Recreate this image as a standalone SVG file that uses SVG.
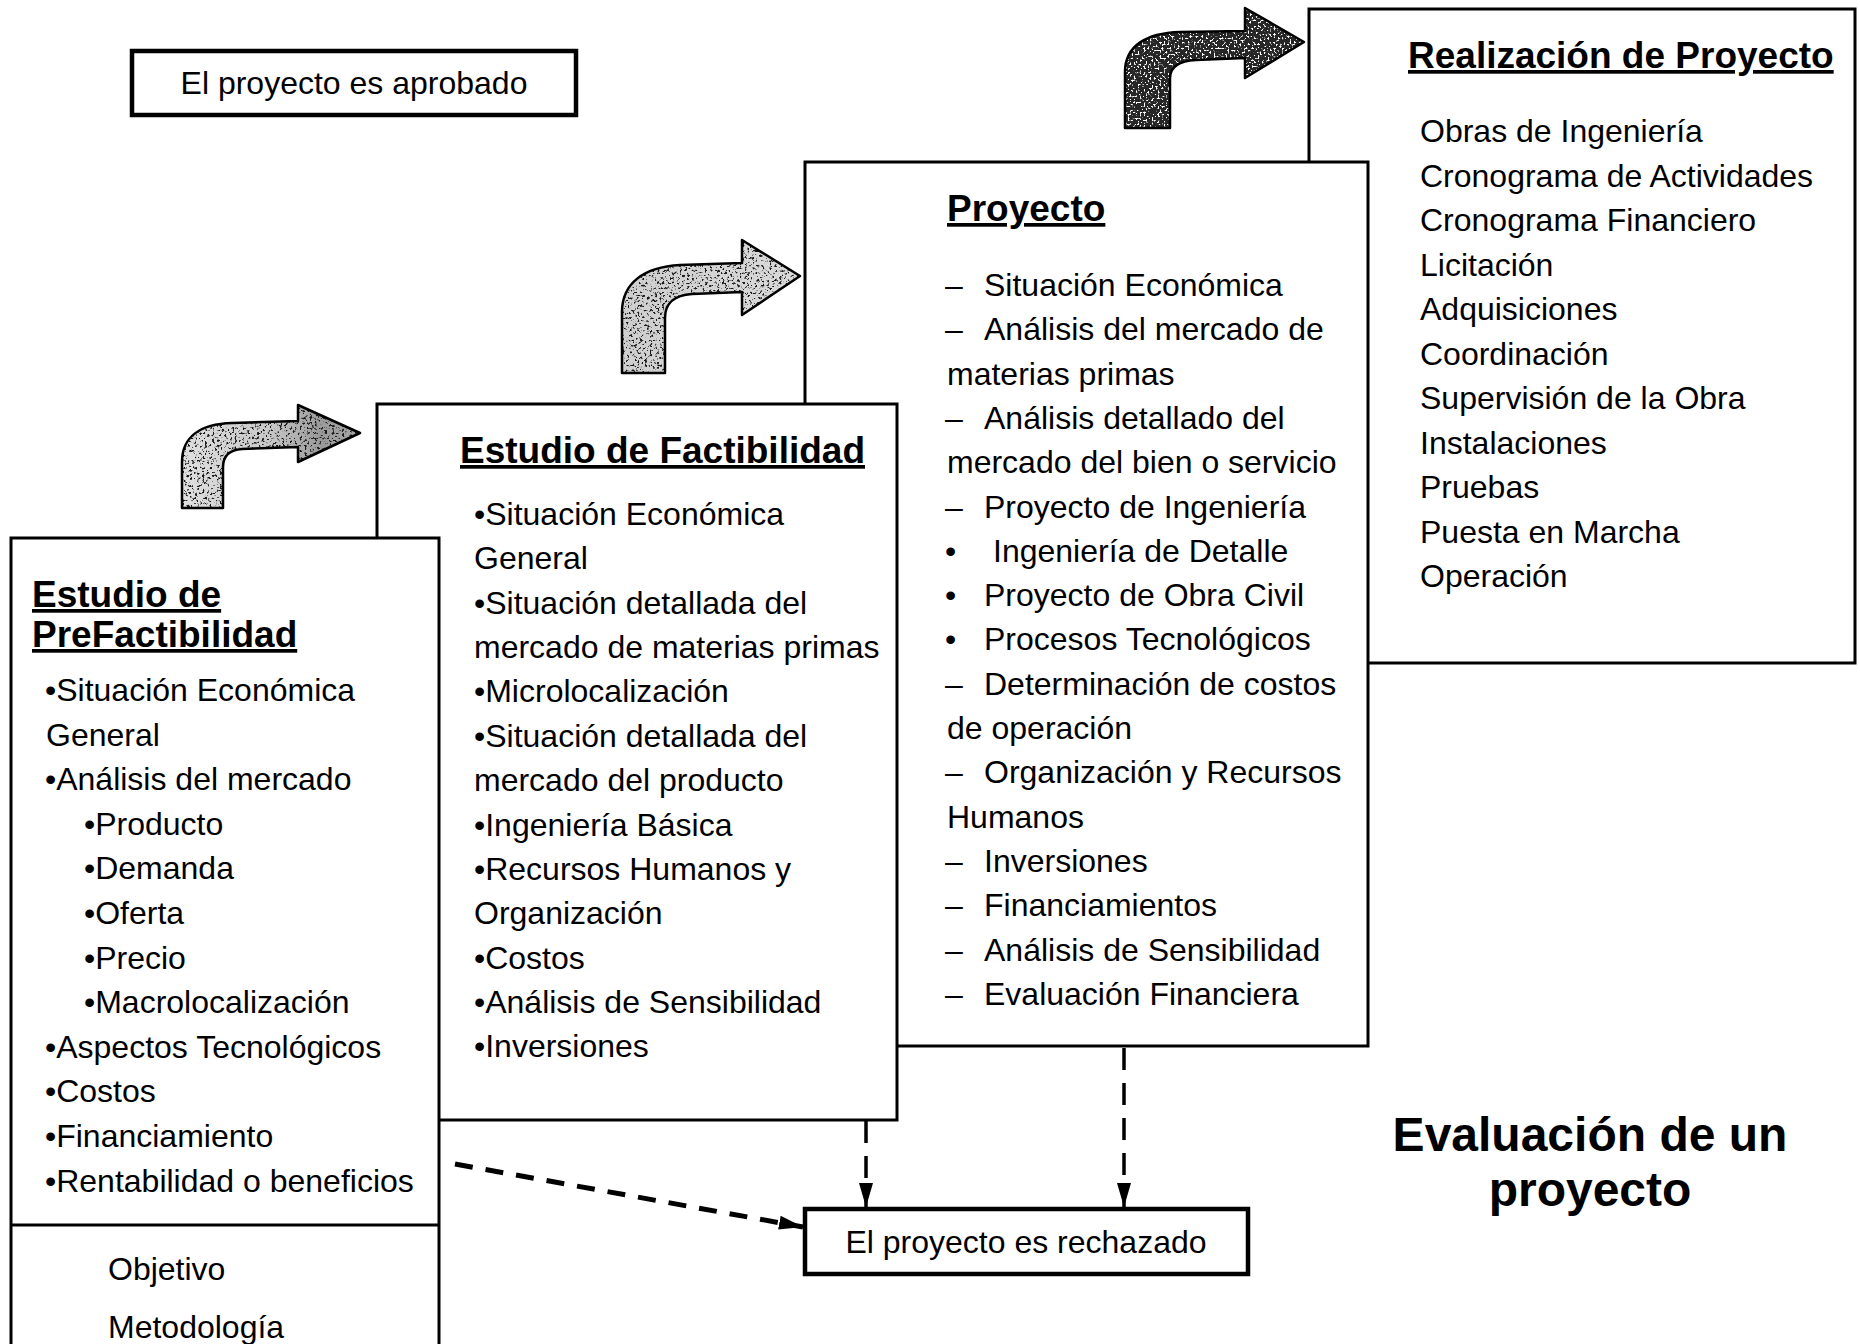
<svg xmlns="http://www.w3.org/2000/svg" width="1860" height="1344" viewBox="0 0 1860 1344">
  <style>
    text { font-family: "Liberation Sans", Arial, sans-serif; fill: #000; }
    .t { font-size: 32px; }
    .h { font-size: 37px; font-weight: bold; text-decoration: underline; }
    .big { font-size: 48px; font-weight: bold; text-anchor: middle; }
    .mid { text-anchor: middle; }
    .box { fill: #fff; stroke: #000; stroke-width: 3; }
    .thick { fill: #fff; stroke: #000; stroke-width: 4.5; }
    .rule { stroke: #000; stroke-width: 3; }
    .dashD { fill: none; stroke: #000; stroke-width: 5; stroke-dasharray: 18 13; }
    .dashV { fill: none; stroke: #000; stroke-width: 3.5; stroke-dasharray: 22 13; }
    .edge { fill: none; stroke: #000; stroke-width: 2.5; stroke-linejoin: round; }
  </style>
  <defs>
    <!-- granite-like speckle texture for the bent arrows -->
    <filter id="grainBlack" x="0" y="0" width="1" height="1" color-interpolation-filters="sRGB">
      <feTurbulence type="fractalNoise" baseFrequency="0.4" numOctaves="3" seed="7" result="noise"/>
      <feColorMatrix in="noise" type="matrix" values="0 0 0 0 0.1  0 0 0 0 0.1  0 0 0 0 0.1  0 0 0 8 -4.55" result="spots"/>
      <feComposite in="spots" in2="SourceAlpha" operator="in" result="spotsIn"/>
      <feMerge><feMergeNode in="SourceGraphic"/><feMergeNode in="spotsIn"/></feMerge>
    </filter>
    <filter id="grainWhite" x="0" y="0" width="1" height="1" color-interpolation-filters="sRGB">
      <feTurbulence type="fractalNoise" baseFrequency="0.5" numOctaves="3" seed="11" result="noise"/>
      <feColorMatrix in="noise" type="matrix" values="0 0 0 0 1  0 0 0 0 1  0 0 0 0 1  0 0 0 9 -5.0" result="spots"/>
      <feComposite in="spots" in2="SourceAlpha" operator="in" result="spotsIn"/>
      <feMerge><feMergeNode in="SourceGraphic"/><feMergeNode in="spotsIn"/></feMerge>
    </filter>
    <linearGradient id="fillA" x1="0" y1="0" x2="1" y2="0">
      <stop offset="0" stop-color="#e0e0e0"/>
      <stop offset="0.5" stop-color="#c8c8c8"/>
      <stop offset="0.78" stop-color="#9a9a9a"/>
      <stop offset="1" stop-color="#a8a8a8"/>
    </linearGradient>
    <linearGradient id="fillB" x1="0" y1="0" x2="1" y2="0">
      <stop offset="0" stop-color="#cfcfcf"/>
      <stop offset="1" stop-color="#dadada"/>
    </linearGradient>
    <marker id="head" markerUnits="userSpaceOnUse" markerWidth="24" markerHeight="18" viewBox="0 0 24 18" refX="24" refY="9" orient="auto">
      <path d="M0,2 L24,9 L0,16 Z" fill="#000"/>
    </marker>
    <path id="arrowA" d="M182,508 L182,462 C182,437 200,424 232,423 L298,421 L298,405 L360,433 L298,462 L298,447 L242,449 C229,450 223,456 223,467 L223,508 Z"/>
    <path id="arrowB" d="M622,373 L622,312 C622,283 644,267 680,265 L742,263 L742,240 L800,276 L742,315 L742,292 L692,294 C675,295 665,303 665,318 L665,373 Z"/>
    <path id="arrowC" d="M1125,128 L1125,72 C1125,46 1146,33 1180,32 L1245,31 L1245,8 L1304,42 L1245,78 L1245,58 L1196,60 C1179,61 1170,67 1170,78 L1170,128 Z"/>
  </defs>

  <rect width="1860" height="1344" fill="#fff"/>

  <!-- bent arrows between stages -->
  <g id="arrow-prefact-fact">
    <use href="#arrowA" fill="url(#fillA)" filter="url(#grainBlack)"/>
    <use href="#arrowA" class="edge"/>
  </g>
  <g id="arrow-fact-proy">
    <use href="#arrowB" fill="url(#fillB)" filter="url(#grainBlack)"/>
    <use href="#arrowB" class="edge"/>
  </g>
  <g id="arrow-proy-real">
    <use href="#arrowC" fill="#262626" filter="url(#grainWhite)"/>
    <use href="#arrowC" class="edge"/>
  </g>

  <g id="aprobado">
    <rect class="thick" x="132" y="51" width="444" height="64"/>
    <text class="t mid" x="354" y="94">El proyecto es aprobado</text>
  </g>

  <g id="realizacion">
    <rect class="box" x="1309" y="9" width="546" height="654"/>
    <text class="h" x="1408" y="68">Realización de Proyecto</text>
    <text class="t">
      <tspan x="1420" y="142">Obras de Ingeniería</tspan>
      <tspan x="1420" y="186.5">Cronograma de Actividades</tspan>
      <tspan x="1420" y="231">Cronograma Financiero</tspan>
      <tspan x="1420" y="275.5">Licitación</tspan>
      <tspan x="1420" y="320">Adquisiciones</tspan>
      <tspan x="1420" y="364.5">Coordinación</tspan>
      <tspan x="1420" y="409">Supervisión de la Obra</tspan>
      <tspan x="1420" y="453.5">Instalaciones</tspan>
      <tspan x="1420" y="498">Pruebas</tspan>
      <tspan x="1420" y="542.5">Puesta en Marcha</tspan>
      <tspan x="1420" y="587">Operación</tspan>
    </text>
  </g>

  <g id="proyecto">
    <rect class="box" x="805" y="162" width="563" height="884"/>
    <text class="h" x="947" y="221">Proyecto</text>
    <text class="t">
      <tspan x="945" y="296">–</tspan><tspan x="984" y="296">Situación Económica</tspan>
      <tspan x="945" y="340.3">–</tspan><tspan x="984" y="340.3">Análisis del mercado de</tspan>
      <tspan x="947" y="384.6">materias primas</tspan>
      <tspan x="945" y="428.9">–</tspan><tspan x="984" y="428.9">Análisis detallado del</tspan>
      <tspan x="947" y="473.2">mercado del bien o servicio</tspan>
      <tspan x="945" y="517.5">–</tspan><tspan x="984" y="517.5">Proyecto de Ingeniería</tspan>
      <tspan x="945" y="561.8">•</tspan><tspan x="993" y="561.8">Ingeniería de Detalle</tspan>
      <tspan x="945" y="606.1">•</tspan><tspan x="984" y="606.1">Proyecto de Obra Civil</tspan>
      <tspan x="945" y="650.4">•</tspan><tspan x="984" y="650.4">Procesos Tecnológicos</tspan>
      <tspan x="945" y="694.7">–</tspan><tspan x="984" y="694.7">Determinación de costos</tspan>
      <tspan x="947" y="739">de operación</tspan>
      <tspan x="945" y="783.3">–</tspan><tspan x="984" y="783.3">Organización y Recursos</tspan>
      <tspan x="947" y="827.6">Humanos</tspan>
      <tspan x="945" y="871.9">–</tspan><tspan x="984" y="871.9">Inversiones</tspan>
      <tspan x="945" y="916.2">–</tspan><tspan x="984" y="916.2">Financiamientos</tspan>
      <tspan x="945" y="960.5">–</tspan><tspan x="984" y="960.5">Análisis de Sensibilidad</tspan>
      <tspan x="945" y="1004.8">–</tspan><tspan x="984" y="1004.8">Evaluación Financiera</tspan>
    </text>
  </g>

  <g id="factibilidad">
    <rect class="box" x="377" y="404" width="520" height="716"/>
    <text class="h" x="460" y="463">Estudio de Factibilidad</text>
    <text class="t">
      <tspan x="474" y="525">•Situación Económica</tspan>
      <tspan x="474" y="569.4">General</tspan>
      <tspan x="474" y="613.7">•Situación detallada del</tspan>
      <tspan x="474" y="658">mercado de materias primas</tspan>
      <tspan x="474" y="702.4">•Microlocalización</tspan>
      <tspan x="474" y="746.8">•Situación detallada del</tspan>
      <tspan x="474" y="791">mercado del producto</tspan>
      <tspan x="474" y="835.5">•Ingeniería Básica</tspan>
      <tspan x="474" y="879.8">•Recursos Humanos y</tspan>
      <tspan x="474" y="924">Organización</tspan>
      <tspan x="474" y="968.5">•Costos</tspan>
      <tspan x="474" y="1012.9">•Análisis de Sensibilidad</tspan>
      <tspan x="474" y="1057.2">•Inversiones</tspan>
    </text>
  </g>

  <g id="prefactibilidad">
    <rect class="box" x="11" y="538" width="428" height="820"/>
    <line class="rule" x1="11" y1="1225" x2="439" y2="1225"/>
    <text class="h" x="32" y="607">Estudio de</text>
    <text class="h" x="32" y="647">PreFactibilidad</text>
    <text class="t">
      <tspan x="45" y="701">•Situación Económica</tspan>
      <tspan x="46" y="745.6">General</tspan>
      <tspan x="45" y="790.2">•Análisis del mercado</tspan>
      <tspan x="84" y="834.8">•Producto</tspan>
      <tspan x="84" y="879.4">•Demanda</tspan>
      <tspan x="84" y="924">•Oferta</tspan>
      <tspan x="84" y="968.6">•Precio</tspan>
      <tspan x="84" y="1013.2">•Macrolocalización</tspan>
      <tspan x="45" y="1057.8">•Aspectos Tecnológicos</tspan>
      <tspan x="45" y="1102.4">•Costos</tspan>
      <tspan x="45" y="1147">•Financiamiento</tspan>
      <tspan x="45" y="1191.6">•Rentabilidad o beneficios</tspan>
    </text>
    <text class="t">
      <tspan x="108" y="1280">Objetivo</tspan>
      <tspan x="108" y="1338">Metodología</tspan>
    </text>
  </g>

  <g id="rechazado">
    <rect class="thick" x="805" y="1209" width="443" height="65"/>
    <text class="t mid" x="1026" y="1253">El proyecto es rechazado</text>
  </g>

  <!-- rejection paths -->
  <g id="connectors">
    <line class="dashD" x1="455" y1="1164" x2="803" y2="1227" marker-end="url(#head)"/>
    <line class="dashV" x1="866" y1="1121" x2="866" y2="1207" marker-end="url(#head)"/>
    <line class="dashV" x1="1124" y1="1048" x2="1124" y2="1207" marker-end="url(#head)"/>
  </g>

  <g id="titulo">
    <text class="big" x="1590" y="1151">Evaluación de un</text>
    <text class="big" x="1590" y="1206">proyecto</text>
  </g>
</svg>
